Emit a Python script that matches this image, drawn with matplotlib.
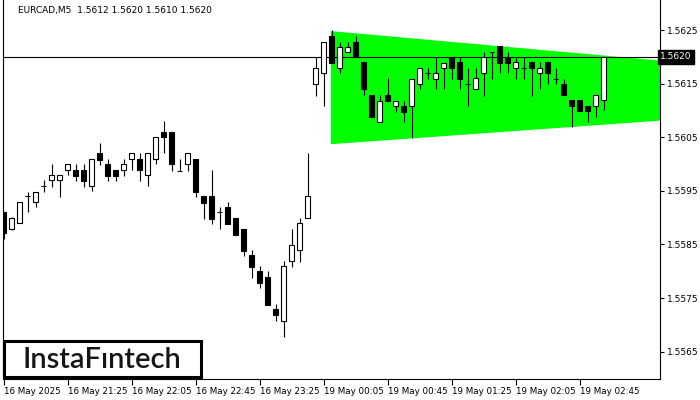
import matplotlib
matplotlib.use('Agg')
import matplotlib.pyplot as plt
from matplotlib.patches import Rectangle, Polygon
import numpy as np

symbol = 'EURCAD,M5'
last_ohlc = [1.5612, 1.5620, 1.5610, 1.5620]

opens = [1.55910, 1.55879, 1.55890, 1.55940, 1.55929, 1.55959, 1.55970, 1.55970, 1.55989, 1.55989,
         1.55989, 1.55959, 1.56020, 1.56000, 1.55989, 1.55989, 1.56009, 1.56009, 1.55979, 1.56009,
         1.56060, 1.56060, 1.55987, 1.56000, 1.56009, 1.55940, 1.55940, 1.55910, 1.55920, 1.55899,
         1.55879, 1.55830, 1.55800, 1.55789, 1.55729, 1.55707, 1.55819, 1.55839, 1.55899, 1.56149,
         1.56170, 1.56239, 1.56179, 1.56209, 1.56228, 1.56190, 1.56129, 1.56078, 1.56129, 1.56108,
         1.56108, 1.56108, 1.56149, 1.56170, 1.56159, 1.56179, 1.56200, 1.56190, 1.56149, 1.56140,
         1.56170, 1.56209, 1.56220, 1.56200, 1.56179, 1.56179, 1.56190, 1.56170, 1.56190, 1.56159,
         1.56149, 1.56119, 1.56119, 1.56108, 1.56108, 1.56120]
highs = [1.55910, 1.55901, 1.55929, 1.55948, 1.55948, 1.55970, 1.56000, 1.55979, 1.56000, 1.56000,
         1.56000, 1.56009, 1.56039, 1.56009, 1.55989, 1.56009, 1.56020, 1.56020, 1.56020, 1.56050,
         1.56080, 1.56060, 1.56009, 1.56020, 1.56009, 1.55940, 1.55989, 1.55920, 1.55929, 1.55899,
         1.55879, 1.55839, 1.55810, 1.55800, 1.55739, 1.55819, 1.55879, 1.55899, 1.56020, 1.56200,
         1.56228, 1.56250, 1.56228, 1.56228, 1.56239, 1.56190, 1.56129, 1.56129, 1.56160, 1.56118,
         1.56118, 1.56159, 1.56179, 1.56179, 1.56200, 1.56188, 1.56200, 1.56200, 1.56179, 1.56179,
         1.56209, 1.56209, 1.56220, 1.56209, 1.56200, 1.56200, 1.56190, 1.56190, 1.56190, 1.56179,
         1.56159, 1.56119, 1.56119, 1.56108, 1.56129, 1.56200]
lows = [1.55860, 1.55877, 1.55890, 1.55910, 1.55920, 1.55948, 1.55957, 1.55938, 1.55979, 1.55968,
        1.55957, 1.55950, 1.55998, 1.55968, 1.55968, 1.55978, 1.55989, 1.55968, 1.55959, 1.56000,
        1.56020, 1.55987, 1.55987, 1.55987, 1.55938, 1.55897, 1.55888, 1.55879, 1.55888, 1.55867,
        1.55828, 1.55787, 1.55769, 1.55737, 1.55707, 1.55677, 1.55808, 1.55817, 1.55899, 1.56127,
        1.56108, 1.56188, 1.56170, 1.56209, 1.56200, 1.56129, 1.56088, 1.56078, 1.56118, 1.56097,
        1.56078, 1.56048, 1.56140, 1.56159, 1.56140, 1.56140, 1.56159, 1.56140, 1.56108, 1.56140,
        1.56127, 1.56159, 1.56170, 1.56170, 1.56159, 1.56159, 1.56127, 1.56140, 1.56149, 1.56149,
        1.56129, 1.56069, 1.56099, 1.56078, 1.56088, 1.56100]
closes = [1.55871, 1.55899, 1.55929, 1.55940, 1.55948, 1.55959, 1.55979, 1.55979, 1.56000, 1.55978,
          1.55968, 1.56009, 1.56007, 1.55978, 1.55978, 1.56000, 1.56020, 1.55989, 1.56020, 1.56050,
          1.56050, 1.56000, 1.55987, 1.56020, 1.55948, 1.55927, 1.55897, 1.55910, 1.55888, 1.55867,
          1.55838, 1.55808, 1.55778, 1.55737, 1.55718, 1.55810, 1.55849, 1.55890, 1.55940, 1.56179,
          1.56228, 1.56188, 1.56218, 1.56218, 1.56200, 1.56140, 1.56088, 1.56118, 1.56118, 1.56118,
          1.56097, 1.56159, 1.56179, 1.56170, 1.56170, 1.56188, 1.56179, 1.56159, 1.56149, 1.56160,
          1.56200, 1.56209, 1.56188, 1.56188, 1.56190, 1.56179, 1.56179, 1.56179, 1.56170, 1.56159,
          1.56129, 1.56108, 1.56099, 1.56099, 1.56129, 1.56200]

time_labels = ['16 May 2025', '16 May 21:25', '16 May 22:05', '16 May 22:45', '16 May 23:25',
               '19 May 00:05', '19 May 00:45', '19 May 01:25', '19 May 02:05', '19 May 02:45']
label_step = 8

# triangle pattern corners (candle index, price)
tri_x = [40.9, 82.1]
tri_top = [1.56248, 1.56193]
tri_bottom = [1.56037, 1.56081]

current_price = 1.5620
price_ticks = [1.5565, 1.5575, 1.5585, 1.5595, 1.5605, 1.5615, 1.5625]

fig = plt.figure(figsize=(7, 4), dpi=100)
ax = fig.add_axes([3 / 700, 21 / 400, 657 / 700, 379 / 400])

tri = Polygon([(tri_x[0], tri_top[0]), (tri_x[1], tri_top[1]),
               (tri_x[1], tri_bottom[1]), (tri_x[0], tri_bottom[0])],
              closed=True, facecolor='#00ff00', edgecolor='none', zorder=1)
ax.add_patch(tri)

ax.axhline(current_price, color='black', lw=0.8, zorder=2)

idx = np.arange(len(opens))
o = np.array(opens)
c = np.array(closes)
ax.vlines(idx, lows, highs, color='black', lw=0.8, zorder=3)
body_w = 0.6
for i in idx:
    if abs(c[i] - o[i]) < 1e-6:
        ax.hlines(o[i], i - body_w / 2, i + body_w / 2, color='black', lw=0.8, zorder=4)
    else:
        fc = 'white' if c[i] > o[i] else 'black'
        ax.bar(i, abs(c[i] - o[i]), bottom=min(o[i], c[i]), width=body_w,
               facecolor=fc, edgecolor='black', lw=0.8, zorder=4)

ax.set_xlim(-0.075, 82.05)
ax.set_ylim(1.55599, 1.56306)

ax.spines['top'].set_visible(False)
for s in ['left', 'right', 'bottom']:
    ax.spines[s].set_linewidth(0.8)

ax.yaxis.tick_right()
ax.set_yticks(price_ticks)
ax.set_yticklabels([f'{p:.4f}' for p in price_ticks])
ax.tick_params(axis='y', direction='out', length=3, width=0.8, labelsize=6.5, pad=2)

xt = [i * label_step for i in range(len(time_labels))]
ax.set_xticks(xt)
ax.set_xticklabels(time_labels)
for lab in ax.get_xticklabels():
    lab.set_horizontalalignment('left')
ax.tick_params(axis='x', direction='out', length=4, width=0.8, labelsize=6.3, pad=2)

# current price tag on the right axis
ax.text(1.0, current_price, f'{current_price:.4f}', transform=ax.get_yaxis_transform(),
        ha='left', va='center', fontsize=6.5, color='white',
        bbox=dict(boxstyle='square,pad=0.25', fc='black', ec='black'))

fig.text(18 / 700, 1 - 10 / 400,
         f'{symbol}  ' + ' '.join(f'{v:.4f}' for v in last_ohlc),
         fontsize=6.5, va='center', ha='left')

# logo box
fig.patches.append(Rectangle((4 / 700, 23 / 400), 197 / 700, 36 / 400, transform=fig.transFigure,
                             facecolor='white', edgecolor='black', lw=2.2, zorder=10))
fig.text(102 / 700, 1 - 359.5 / 400, 'InstaF\u0131ntech', fontsize=21, family='Lato',
         fontweight='semibold', color='#151515', ha='center', va='center', zorder=11)

fig.savefig('out.png', dpi=100)
